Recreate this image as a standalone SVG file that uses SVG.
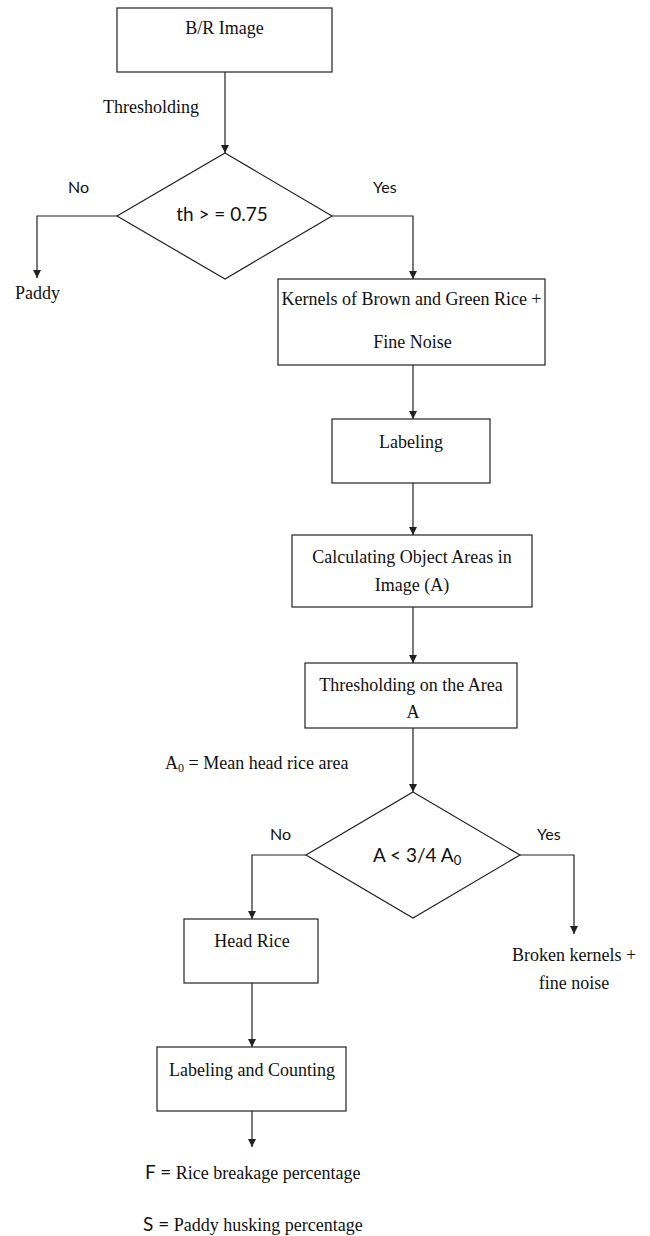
<svg xmlns="http://www.w3.org/2000/svg" width="650" height="1236" viewBox="0 0 650 1236">
<style>
.box{fill:#fff;stroke:#222;stroke-width:1.2}
.ln{fill:none;stroke:#222;stroke-width:1.2}
.t{font-family:"Liberation Serif",serif;font-size:18px;fill:#111}
.s{font-family:Lato,"Open Sans",sans-serif;font-size:16px;fill:#111}
.d{font-size:19px}
.m{text-anchor:middle}
</style>
<defs>
<marker id="ah" viewBox="0 0 10 10" refX="10" refY="5" markerWidth="8" markerHeight="8" markerUnits="userSpaceOnUse" orient="auto">
<path d="M0,0 L10,5 L0,10 z" fill="#222"/>
</marker>
</defs>
<rect width="650" height="1236" fill="#fff"/>
<g id="connectors">
<line class="ln" x1="225" y1="72" x2="225" y2="153" marker-end="url(#ah)"/>
<polyline class="ln" points="117,216 37,216 37,278" marker-end="url(#ah)"/>
<polyline class="ln" points="332,216 413,216 413,279" marker-end="url(#ah)"/>
<line class="ln" x1="413" y1="365" x2="413" y2="419" marker-end="url(#ah)"/>
<line class="ln" x1="413" y1="483" x2="413" y2="535" marker-end="url(#ah)"/>
<line class="ln" x1="413" y1="607" x2="413" y2="663" marker-end="url(#ah)"/>
<line class="ln" x1="413" y1="728" x2="413" y2="792" marker-end="url(#ah)"/>
<polyline class="ln" points="306,855 252,855 252,919" marker-end="url(#ah)"/>
<polyline class="ln" points="520,855 574,855 574,934" marker-end="url(#ah)"/>
<line class="ln" x1="252" y1="983" x2="252" y2="1047" marker-end="url(#ah)"/>
<line class="ln" x1="252" y1="1111" x2="252" y2="1147" marker-end="url(#ah)"/>
<text class="t" x="103" y="113">Thresholding</text>
<text class="s" x="68" y="193">No</text>
<text class="s" x="373" y="193">Yes</text>
<text class="s" x="270" y="840">No</text>
<text class="s" x="537" y="840">Yes</text>
</g>
<g id="n-br-image">
<rect class="box" x="117" y="8" width="215" height="64"/>
<text class="t m" x="224.5" y="34">B/R Image</text>
</g>
<g id="n-decision1">
<polygon class="box" points="225,153 332,216 225,279 117,216"/>
<text class="s d m" x="222" y="221">th &gt; = 0.75</text>
</g>
<g id="n-paddy">
<text class="t" x="15" y="299">Paddy</text>
</g>
<g id="n-kernels">
<rect class="box" x="278" y="279" width="267" height="86"/>
<text class="t m" x="411.5" y="305">Kernels of Brown and Green Rice +</text>
<text class="t m" x="412.5" y="348">Fine Noise</text>
</g>
<g id="n-labeling">
<rect class="box" x="332" y="419" width="158" height="64"/>
<text class="t m" x="411" y="448">Labeling</text>
</g>
<g id="n-calc">
<rect class="box" x="292" y="535" width="240" height="72"/>
<text class="t m" x="412" y="563">Calculating Object Areas in</text>
<text class="t m" x="412" y="591">Image (A)</text>
</g>
<g id="n-thresh-area">
<rect class="box" x="305" y="663" width="212" height="65"/>
<text class="t m" x="411" y="691">Thresholding on the Area</text>
<text class="t m" x="413" y="718">A</text>
</g>
<g id="n-a0">
<text class="t" x="165" y="769">A<tspan font-size="12" dy="3">0</tspan><tspan dy="-3"> = Mean head rice area</tspan></text>
</g>
<g id="n-decision2">
<polygon class="box" points="413,792 520,855 413,918 306,855"/>
<text class="s d" x="373" y="862">A &lt; 3/4 A<tspan font-size="13" dy="3">0</tspan></text>
</g>
<g id="n-head-rice">
<rect class="box" x="184" y="919" width="134" height="64"/>
<text class="t m" x="252" y="947">Head Rice</text>
</g>
<g id="n-broken">
<text class="t m" x="574" y="961">Broken kernels +</text>
<text class="t m" x="574" y="989">fine noise</text>
</g>
<g id="n-count">
<rect class="box" x="157" y="1047" width="189" height="64"/>
<text class="t m" x="252" y="1076">Labeling and Counting</text>
</g>
<g id="n-f">
<text x="145" y="1179"><tspan class="s d">F =</tspan><tspan class="t"> Rice breakage percentage</tspan></text>
</g>
<g id="n-s">
<text x="143" y="1231"><tspan class="s d">S =</tspan><tspan class="t"> Paddy husking percentage</tspan></text>
</g>
</svg>
